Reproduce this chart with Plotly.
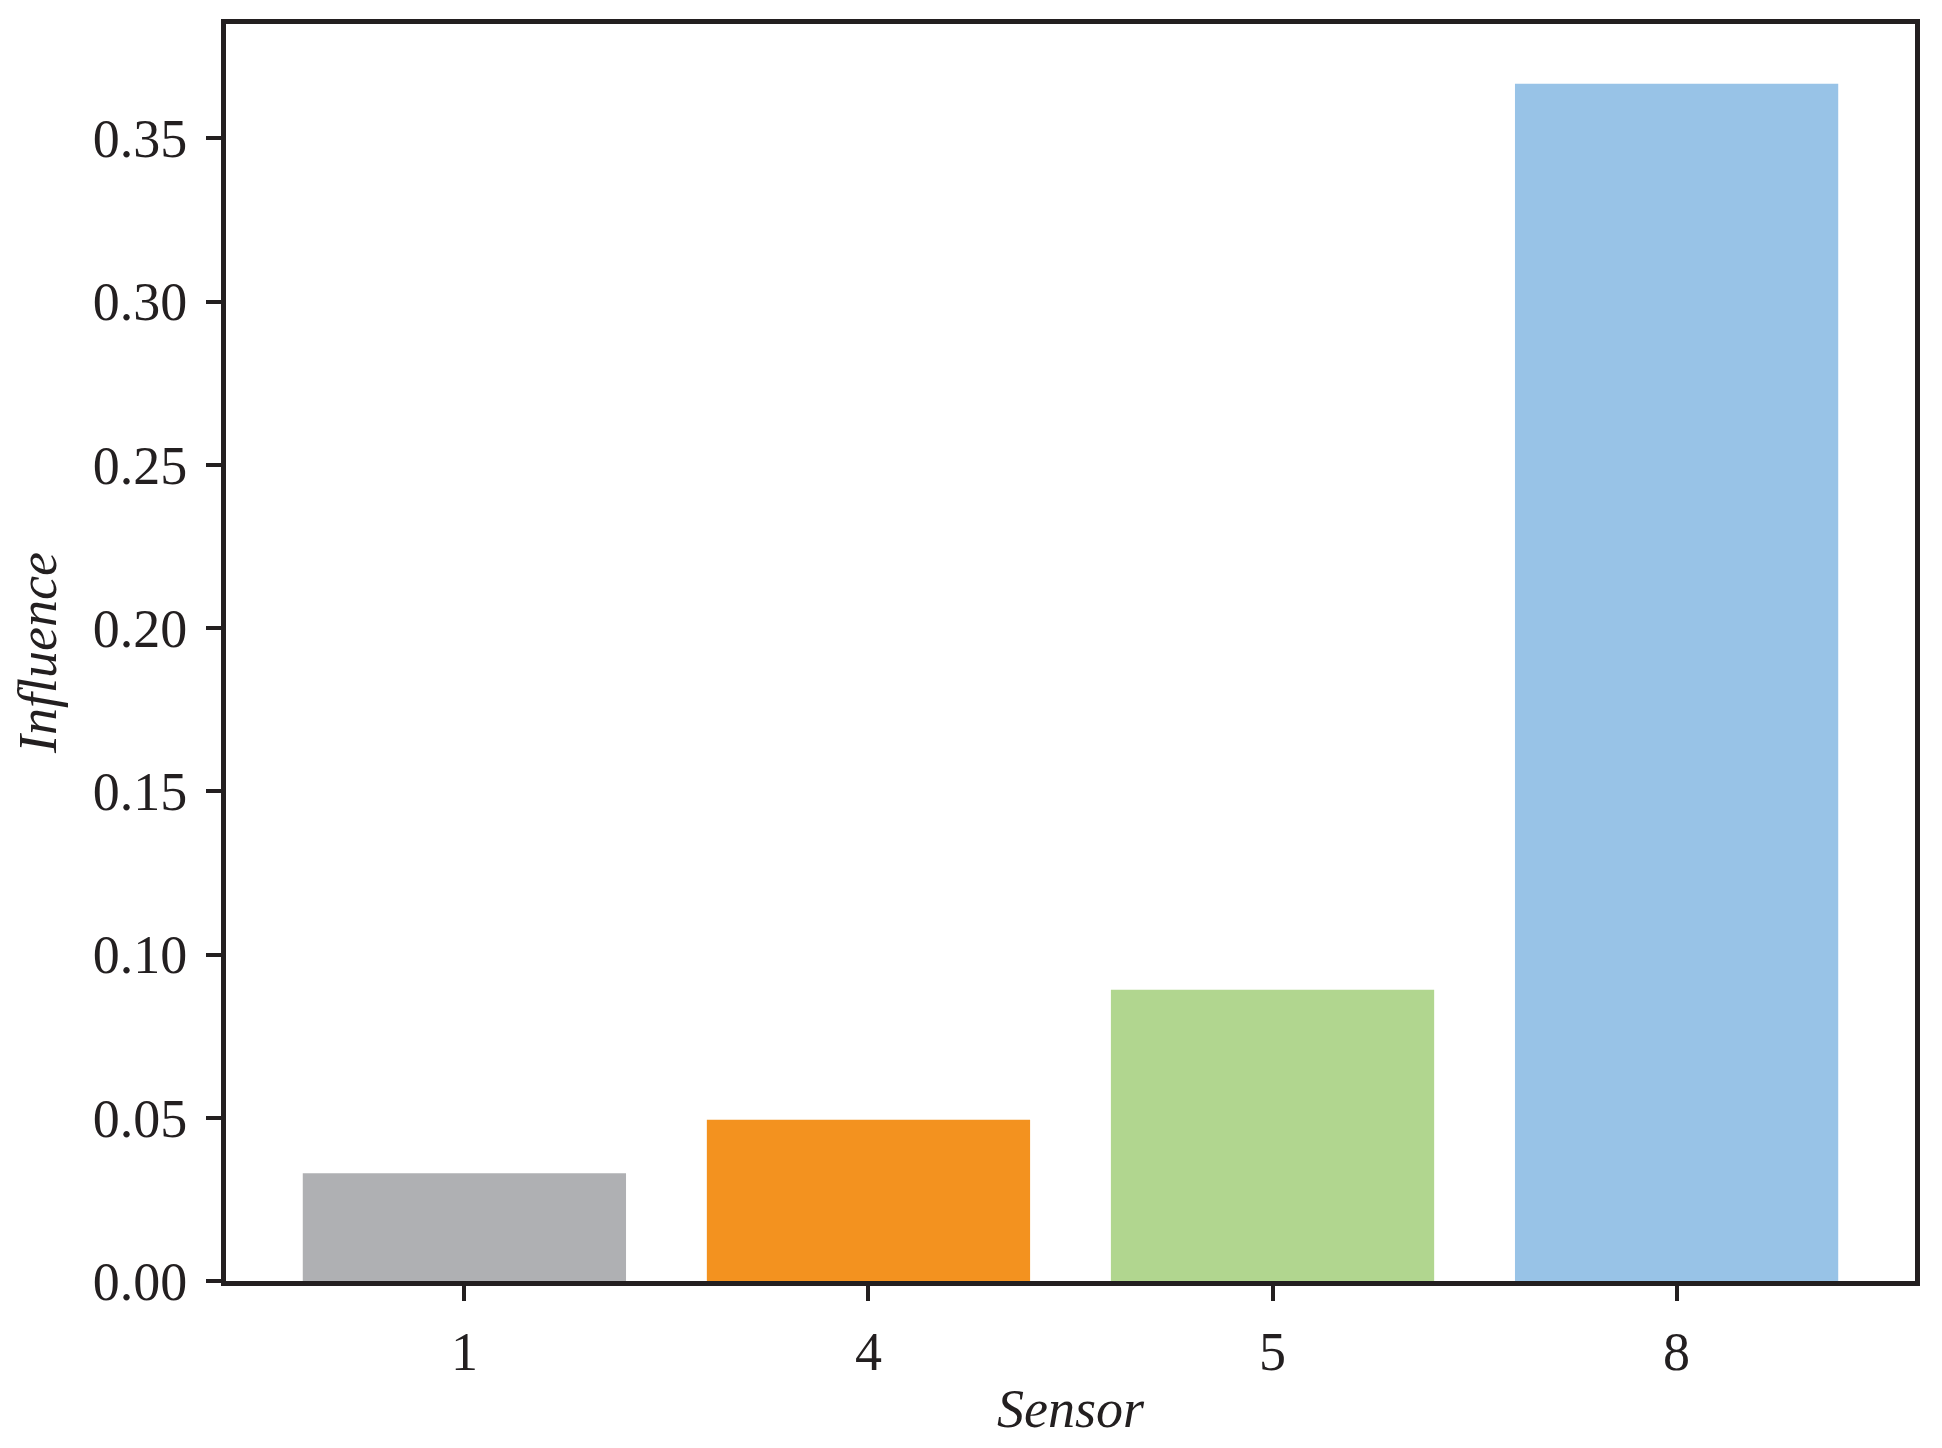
import plotly.graph_objects as go

# sensor influence values
sensors = ["1", "4", "5", "8"]
influence = [0.033, 0.0494, 0.0892, 0.3667]
bar_colors = ["#AFB0B3", "#F3921F", "#B1D68F", "#98C3E7"]

y_ticks = [0.00, 0.05, 0.10, 0.15, 0.20, 0.25, 0.30, 0.35]
y_tick_text = [f"{v:.2f}" for v in y_ticks]

FONT = "Liberation Serif, DejaVu Serif, serif"
INK = "#231F20"

fig = go.Figure()
fig.add_trace(go.Bar(
    x=sensors, y=influence,
    marker=dict(color=bar_colors, line=dict(width=0)),
    width=0.8,
    showlegend=False,
))

fig.update_layout(
    width=1942, height=1448,
    margin=dict(l=218, r=35, t=16, b=175),
    paper_bgcolor="white", plot_bgcolor="white",
    font=dict(family=FONT, size=54, color=INK),
    xaxis=dict(
        type="category",
        range=[-0.59, 3.59],
        showline=True, linecolor=INK, linewidth=5, mirror=True,
        ticks="outside", ticklen=15, tickwidth=4, tickcolor=INK,
        showgrid=False, zeroline=False,
        tickfont=dict(size=54),
        ticklabelstandoff=4,
        title=dict(text="<i>Sensor</i>", font=dict(size=54), standoff=10),
    ),
    yaxis=dict(
        range=[0, 0.385],
        tickvals=y_ticks, ticktext=y_tick_text,
        showline=True, linecolor=INK, linewidth=5, mirror=True,
        ticks="outside", ticklen=15, tickwidth=4, tickcolor=INK,
        showgrid=False, zeroline=False,
        tickfont=dict(size=54),
        ticklabelstandoff=8,
        title=dict(text="<i>Influence</i>", font=dict(size=54), standoff=22),
    ),
)

fig.write_html("out.html")
